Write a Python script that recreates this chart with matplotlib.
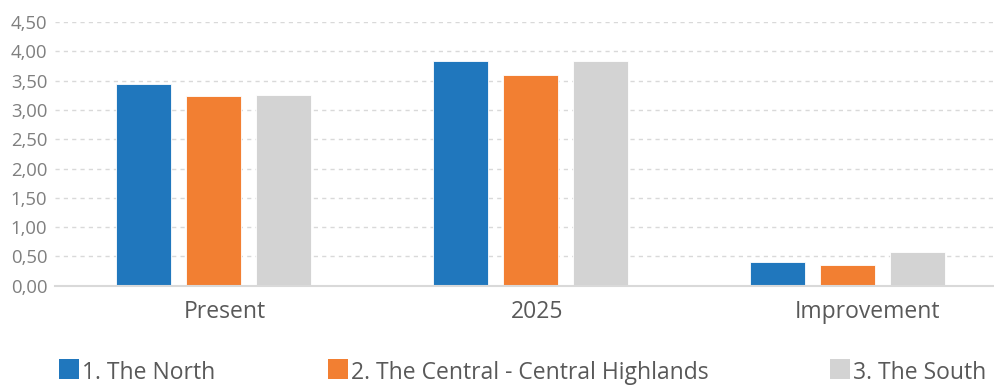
import matplotlib
matplotlib.use("Agg")
import matplotlib.pyplot as plt
from matplotlib.patches import Rectangle
from matplotlib.transforms import ScaledTranslation
import numpy as np

categories = ["Present", "2025", "Improvement"]
series_names = ["1. The North", "2. The Central - Central Highlands", "3. The South"]
north = [3.44, 3.84, 0.40]
central = [3.24, 3.60, 0.36]
south = [3.25, 3.83, 0.58]
colors = ["#2077BD", "#F27F32", "#D3D3D3"]
yticks = [0.0, 0.5, 1.0, 1.5, 2.0, 2.5, 3.0, 3.5, 4.0, 4.5]

plt.rcParams["font.family"] = ["Open Sans", "DejaVu Sans"]

W, H = 995, 385
fig = plt.figure(figsize=(W / 100, H / 100), dpi=100)
ax = fig.add_axes([55 / W, (H - 285.7) / H, 951 / W, (285.7 - 22) / H])

x = np.arange(len(categories))
bar_w = 0.1735
step = 0.2208
for i, (vals, col) in enumerate(zip([north, central, south], colors)):
    ax.bar(x + (i - 1) * step, vals, width=bar_w, color=col,
           edgecolor="white", linewidth=0.6, zorder=3)

ax.set_xlim(-0.5, len(categories) - 0.5)
ax.set_ylim(0, 4.5)
ax.set_yticks(yticks)
ax.set_yticklabels([f"{v:.2f}".replace(".", ",") for v in yticks],
                   fontsize=13.3, color="#7F7F7F")
ax.set_xticks(x)
ax.set_xticklabels(categories, fontsize=16.5, color="#595959")
ax.tick_params(axis="both", length=0)
ax.tick_params(axis="y", pad=5.5)
ax.tick_params(axis="x", pad=10)

for s in ["top", "right", "left"]:
    ax.spines[s].set_visible(False)
ax.spines["bottom"].set_color("#D9D9D9")
ax.spines["bottom"].set_linewidth(1.5)
ax.spines["bottom"].set_zorder(4)

ax.yaxis.grid(True, color="#D9D9D9", linestyle=(0, (3, 3)), linewidth=1.0, zorder=0)
ax.set_axisbelow(True)

# category labels sit slightly right of the group centre
fig.canvas.draw()
renderer = fig.canvas.get_renderer()
for lab in ax.get_xticklabels():
    w = lab.get_window_extent(renderer).width
    lab.set_transform(lab.get_transform() +
                      ScaledTranslation(0.135 * w / 100, 0, fig.dpi_scale_trans))

# legend row along the bottom edge
leg_x = [59, 328, 830]
for lx, name, col in zip(leg_x, series_names, colors):
    fig.add_artist(Rectangle((lx / W, (H - 379) / H), 20 / W, 20 / H,
                             transform=fig.transFigure, facecolor=col,
                             edgecolor="none"))
    fig.text((lx + 23) / W, (H - 379) / H, name, fontsize=16.5,
             color="#595959", ha="left", va="baseline")

fig.savefig("out.png", dpi=100)
